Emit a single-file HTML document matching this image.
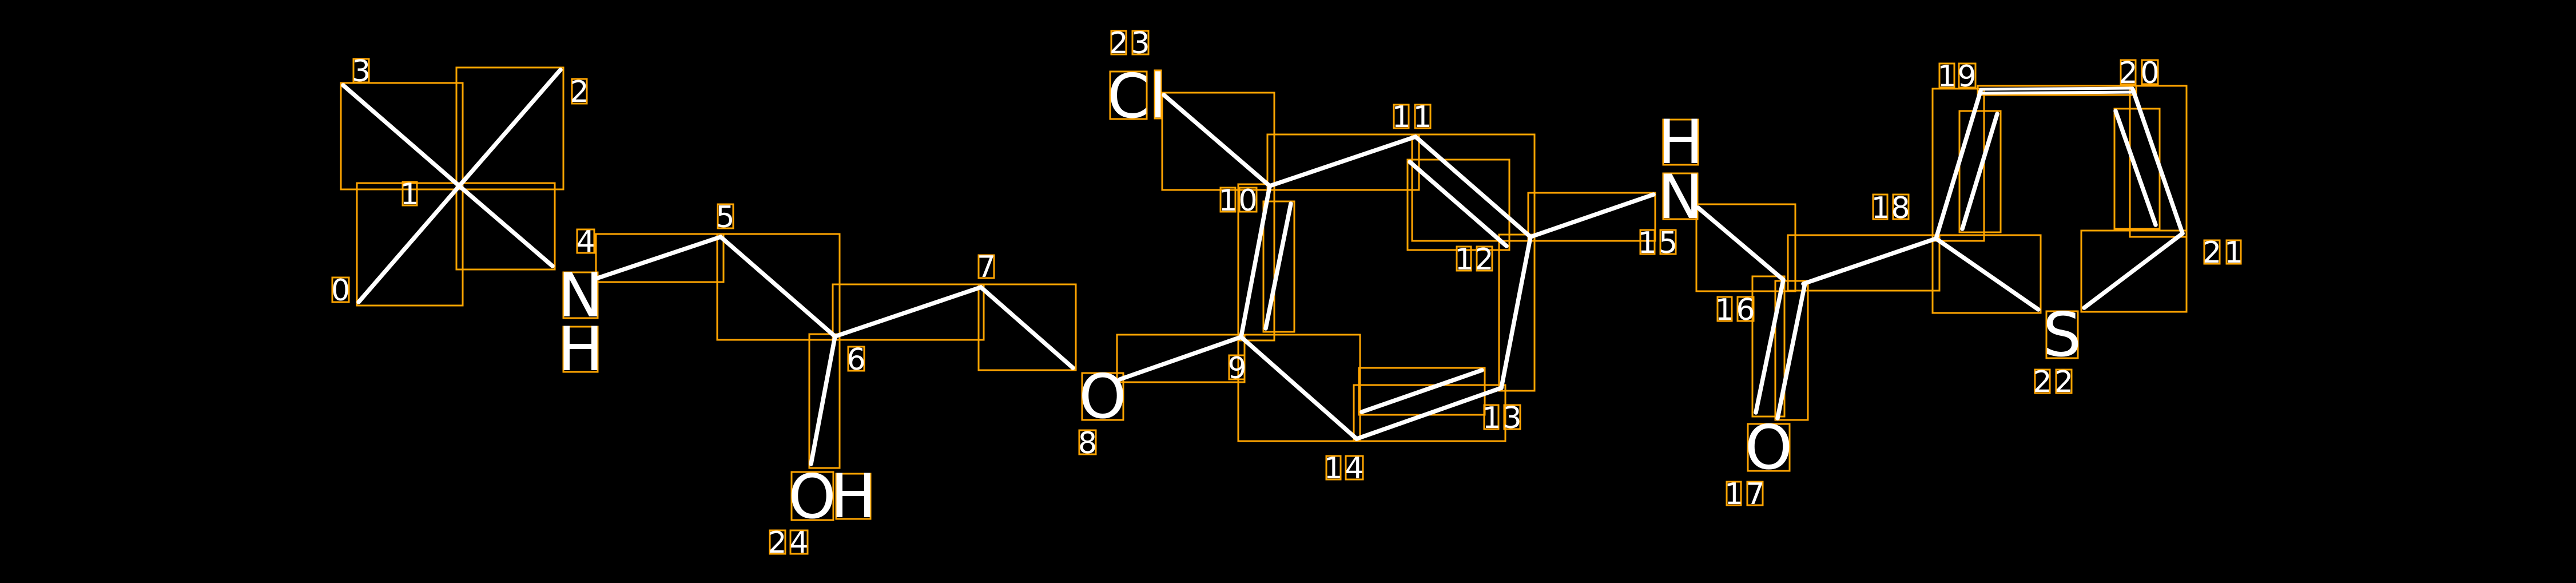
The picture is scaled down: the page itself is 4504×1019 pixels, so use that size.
<!DOCTYPE html>
<html><head><meta charset="utf-8"><style>
html,body{margin:0;padding:0;background:#000;}
svg{display:block;}
text{font-family:"DejaVu Sans","Liberation Sans",sans-serif;fill:#fff;text-anchor:middle;}
.d{font-size:52px;}
.b{font-size:106px;}
.bx{fill:none;stroke:#FFA500;stroke-width:3;}
.bd{stroke:#fff;stroke-width:7.5;stroke-linecap:round;}
</style></head><body>
<svg width="4504" height="1019" viewBox="0 0 4504 1019" xmlns="http://www.w3.org/2000/svg">
<rect width="4504" height="1019" fill="#000"/>
<g class="bx">
<rect x="596" y="145" width="213" height="186"/>
<rect x="798" y="118" width="187" height="213"/>
<rect x="624" y="320" width="185" height="214"/>
<rect x="798" y="320" width="172" height="151"/>
<rect x="1042" y="409" width="223" height="84"/>
<rect x="1254" y="409" width="214" height="185"/>
<rect x="1456" y="497" width="264" height="97"/>
<rect x="1711" y="497" width="170" height="150"/>
<rect x="1415" y="584" width="53" height="234"/>
<rect x="1953" y="585" width="223" height="83"/>
<rect x="2032" y="162" width="196" height="170"/>
<rect x="2216" y="235" width="265" height="97"/>
<rect x="2165" y="322" width="63" height="273"/>
<rect x="2209" y="352" width="54" height="228"/>
<rect x="2165" y="585" width="213" height="186"/>
<rect x="2376" y="643" width="220" height="82"/>
<rect x="2367" y="673" width="265" height="98"/>
<rect x="2621" y="410" width="62" height="273"/>
<rect x="2469" y="235" width="214" height="186"/>
<rect x="2461" y="279" width="178" height="158"/>
<rect x="2672" y="337" width="222" height="84"/>
<rect x="2966" y="357" width="173" height="152"/>
<rect x="3064" y="483" width="56" height="245"/>
<rect x="3104" y="491" width="57" height="243"/>
<rect x="3126" y="411" width="265" height="97"/>
<rect x="3379" y="155" width="90" height="266"/>
<rect x="3426" y="194" width="72" height="212"/>
<rect x="3458" y="150" width="277" height="16"/>
<rect x="3724" y="150" width="99" height="264"/>
<rect x="3697" y="190" width="79" height="210"/>
<rect x="3639" y="403" width="184" height="142"/>
<rect x="3379" y="411" width="189" height="136"/>
<rect x="618" y="103" width="27" height="41"/>
<rect x="1000" y="138" width="26" height="43"/>
<rect x="704" y="318" width="25" height="41"/>
<rect x="581" y="485" width="29" height="43"/>
<rect x="1009" y="401" width="30" height="41"/>
<rect x="1255" y="357" width="27" height="42"/>
<rect x="1483" y="606" width="28" height="42"/>
<rect x="1711" y="446" width="27" height="40"/>
<rect x="1887" y="752" width="29" height="42"/>
<rect x="1346" y="927" width="27" height="41"/>
<rect x="1382" y="927" width="30" height="41"/>
<rect x="1943" y="54" width="26" height="41"/>
<rect x="1980" y="54" width="28" height="41"/>
<rect x="2437" y="183" width="26" height="41"/>
<rect x="2474" y="183" width="27" height="41"/>
<rect x="2134" y="328" width="26" height="42"/>
<rect x="2167" y="328" width="30" height="42"/>
<rect x="2149" y="621" width="27" height="42"/>
<rect x="2547" y="431" width="25" height="42"/>
<rect x="2582" y="431" width="27" height="42"/>
<rect x="2595" y="708" width="25" height="42"/>
<rect x="2630" y="708" width="28" height="42"/>
<rect x="2319" y="797" width="25" height="41"/>
<rect x="2353" y="797" width="30" height="41"/>
<rect x="2868" y="402" width="25" height="42"/>
<rect x="2903" y="402" width="27" height="42"/>
<rect x="3003" y="519" width="25" height="42"/>
<rect x="3038" y="519" width="28" height="42"/>
<rect x="3019" y="842" width="25" height="41"/>
<rect x="3055" y="842" width="27" height="41"/>
<rect x="3275" y="340" width="25" height="43"/>
<rect x="3310" y="340" width="27" height="43"/>
<rect x="3391" y="111" width="26" height="42"/>
<rect x="3425" y="111" width="29" height="42"/>
<rect x="3708" y="105" width="26" height="42"/>
<rect x="3745" y="105" width="28" height="42"/>
<rect x="3854" y="420" width="27" height="41"/>
<rect x="3893" y="420" width="25" height="41"/>
<rect x="3558" y="646" width="26" height="41"/>
<rect x="3595" y="646" width="27" height="41"/>
<rect x="985" y="476" width="60" height="80"/>
<rect x="985" y="571" width="60" height="79"/>
<rect x="1384" y="825" width="73" height="84"/>
<rect x="1462" y="828" width="60" height="79"/>
<rect x="1892" y="652" width="72" height="82"/>
<rect x="1941" y="125" width="64" height="83"/>
<rect x="2019" y="123" width="11" height="84"/>
<rect x="2908" y="209" width="61" height="79"/>
<rect x="2908" y="303" width="60" height="80"/>
<rect x="3056" y="741" width="73" height="82"/>
<rect x="3578" y="544" width="55" height="82"/>
</g>
<g class="bd">
<line x1="600" y1="149" x2="803" y2="325"/>
<line x1="980" y1="122" x2="803" y2="325"/>
<line x1="627" y1="528" x2="803" y2="325"/>
<line x1="966" y1="465" x2="803" y2="325"/>
<line x1="1045" y1="486" x2="1260" y2="414"/>
<line x1="1260" y1="414" x2="1460" y2="588"/>
<line x1="1460" y1="588" x2="1715" y2="502"/>
<line x1="1715" y1="502" x2="1876" y2="643"/>
<line x1="1460" y1="588" x2="1418" y2="811"/>
<line x1="1958" y1="663" x2="2170" y2="589"/>
<line x1="2035" y1="166" x2="2220" y2="325"/>
<line x1="2220" y1="325" x2="2475" y2="239"/>
<line x1="2220" y1="325" x2="2170" y2="589"/>
<line x1="2257" y1="356" x2="2213" y2="574"/>
<line x1="2170" y1="589" x2="2372" y2="767"/>
<line x1="2372" y1="767" x2="2625" y2="678"/>
<line x1="2381" y1="720" x2="2591" y2="647"/>
<line x1="2625" y1="678" x2="2676" y2="414"/>
<line x1="2475" y1="239" x2="2676" y2="414"/>
<line x1="2465" y1="283" x2="2634" y2="430"/>
<line x1="2676" y1="414" x2="2891" y2="340"/>
<line x1="2969" y1="363" x2="3118" y2="489"/>
<line x1="3118" y1="489" x2="3070" y2="721"/>
<line x1="3156" y1="495" x2="3108" y2="731"/>
<line x1="3153" y1="496" x2="3385" y2="417"/>
<line x1="3385" y1="417" x2="3463" y2="159"/>
<line x1="3492" y1="199" x2="3431" y2="400"/>
<line x1="3463" y1="156" x2="3729" y2="154" stroke-width="5"/>
<line x1="3463" y1="163" x2="3729" y2="161" stroke-width="5"/>
<line x1="3729" y1="156" x2="3816" y2="408"/>
<line x1="3699" y1="194" x2="3769" y2="393"/>
<line x1="3816" y1="408" x2="3644" y2="538"/>
<line x1="3385" y1="417" x2="3564" y2="541"/>
</g>
<g>
<text class="d" x="631.5" y="142">3</text>
<text class="d" x="1013" y="178">2</text>
<text class="d" x="716" y="357">1</text>
<text class="d" x="595.5" y="525">0</text>
<text class="d" x="1024" y="440">4</text>
<text class="d" x="1268" y="397">5</text>
<text class="d" x="1497" y="646">6</text>
<text class="d" x="1724.5" y="484">7</text>
<text class="d" x="1901.5" y="792">8</text>
<text class="d" x="1359" y="966">2</text>
<text class="d" x="1397" y="966">4</text>
<text class="d" x="1956" y="93">2</text>
<text class="d" x="1994" y="93">3</text>
<text class="d" x="2450" y="222">1</text>
<text class="d" x="2487" y="222">1</text>
<text class="d" x="2147" y="368">1</text>
<text class="d" x="2182" y="368">0</text>
<text class="d" x="2163" y="661">9</text>
<text class="d" x="2560" y="471">1</text>
<text class="d" x="2595" y="471">2</text>
<text class="d" x="2608" y="748">1</text>
<text class="d" x="2644" y="748">3</text>
<text class="d" x="2331" y="836">1</text>
<text class="d" x="2368" y="836">4</text>
<text class="d" x="2880" y="442">1</text>
<text class="d" x="2916.5" y="442">5</text>
<text class="d" x="3015" y="559">1</text>
<text class="d" x="3052" y="559">6</text>
<text class="d" x="3031.5" y="881">1</text>
<text class="d" x="3069" y="881">7</text>
<text class="d" x="3288" y="381">1</text>
<text class="d" x="3323" y="381">8</text>
<text class="d" x="3404" y="151">1</text>
<text class="d" x="3439" y="151">9</text>
<text class="d" x="3721" y="145">2</text>
<text class="d" x="3759" y="145">0</text>
<text class="d" x="3867.5" y="459">2</text>
<text class="d" x="3905.5" y="459">1</text>
<text class="d" x="3571" y="685">2</text>
<text class="d" x="3608.5" y="685">2</text>
<text class="b" x="1015" y="553">N</text>
<text class="b" x="1015" y="647">H</text>
<text class="b" x="1420" y="905">O</text>
<text class="b" x="1492" y="904">H</text>
<text class="b" x="1928" y="730">O</text>
<text class="b" x="1973" y="205">C</text>
<text class="b" x="2024.5" y="205">l</text>
<text class="b" x="2938.5" y="285">H</text>
<text class="b" x="2938" y="381">N</text>
<text class="b" x="3092.5" y="819">O</text>
<text class="b" x="3605.5" y="622">S</text>
</g>
</svg>
</body></html>
